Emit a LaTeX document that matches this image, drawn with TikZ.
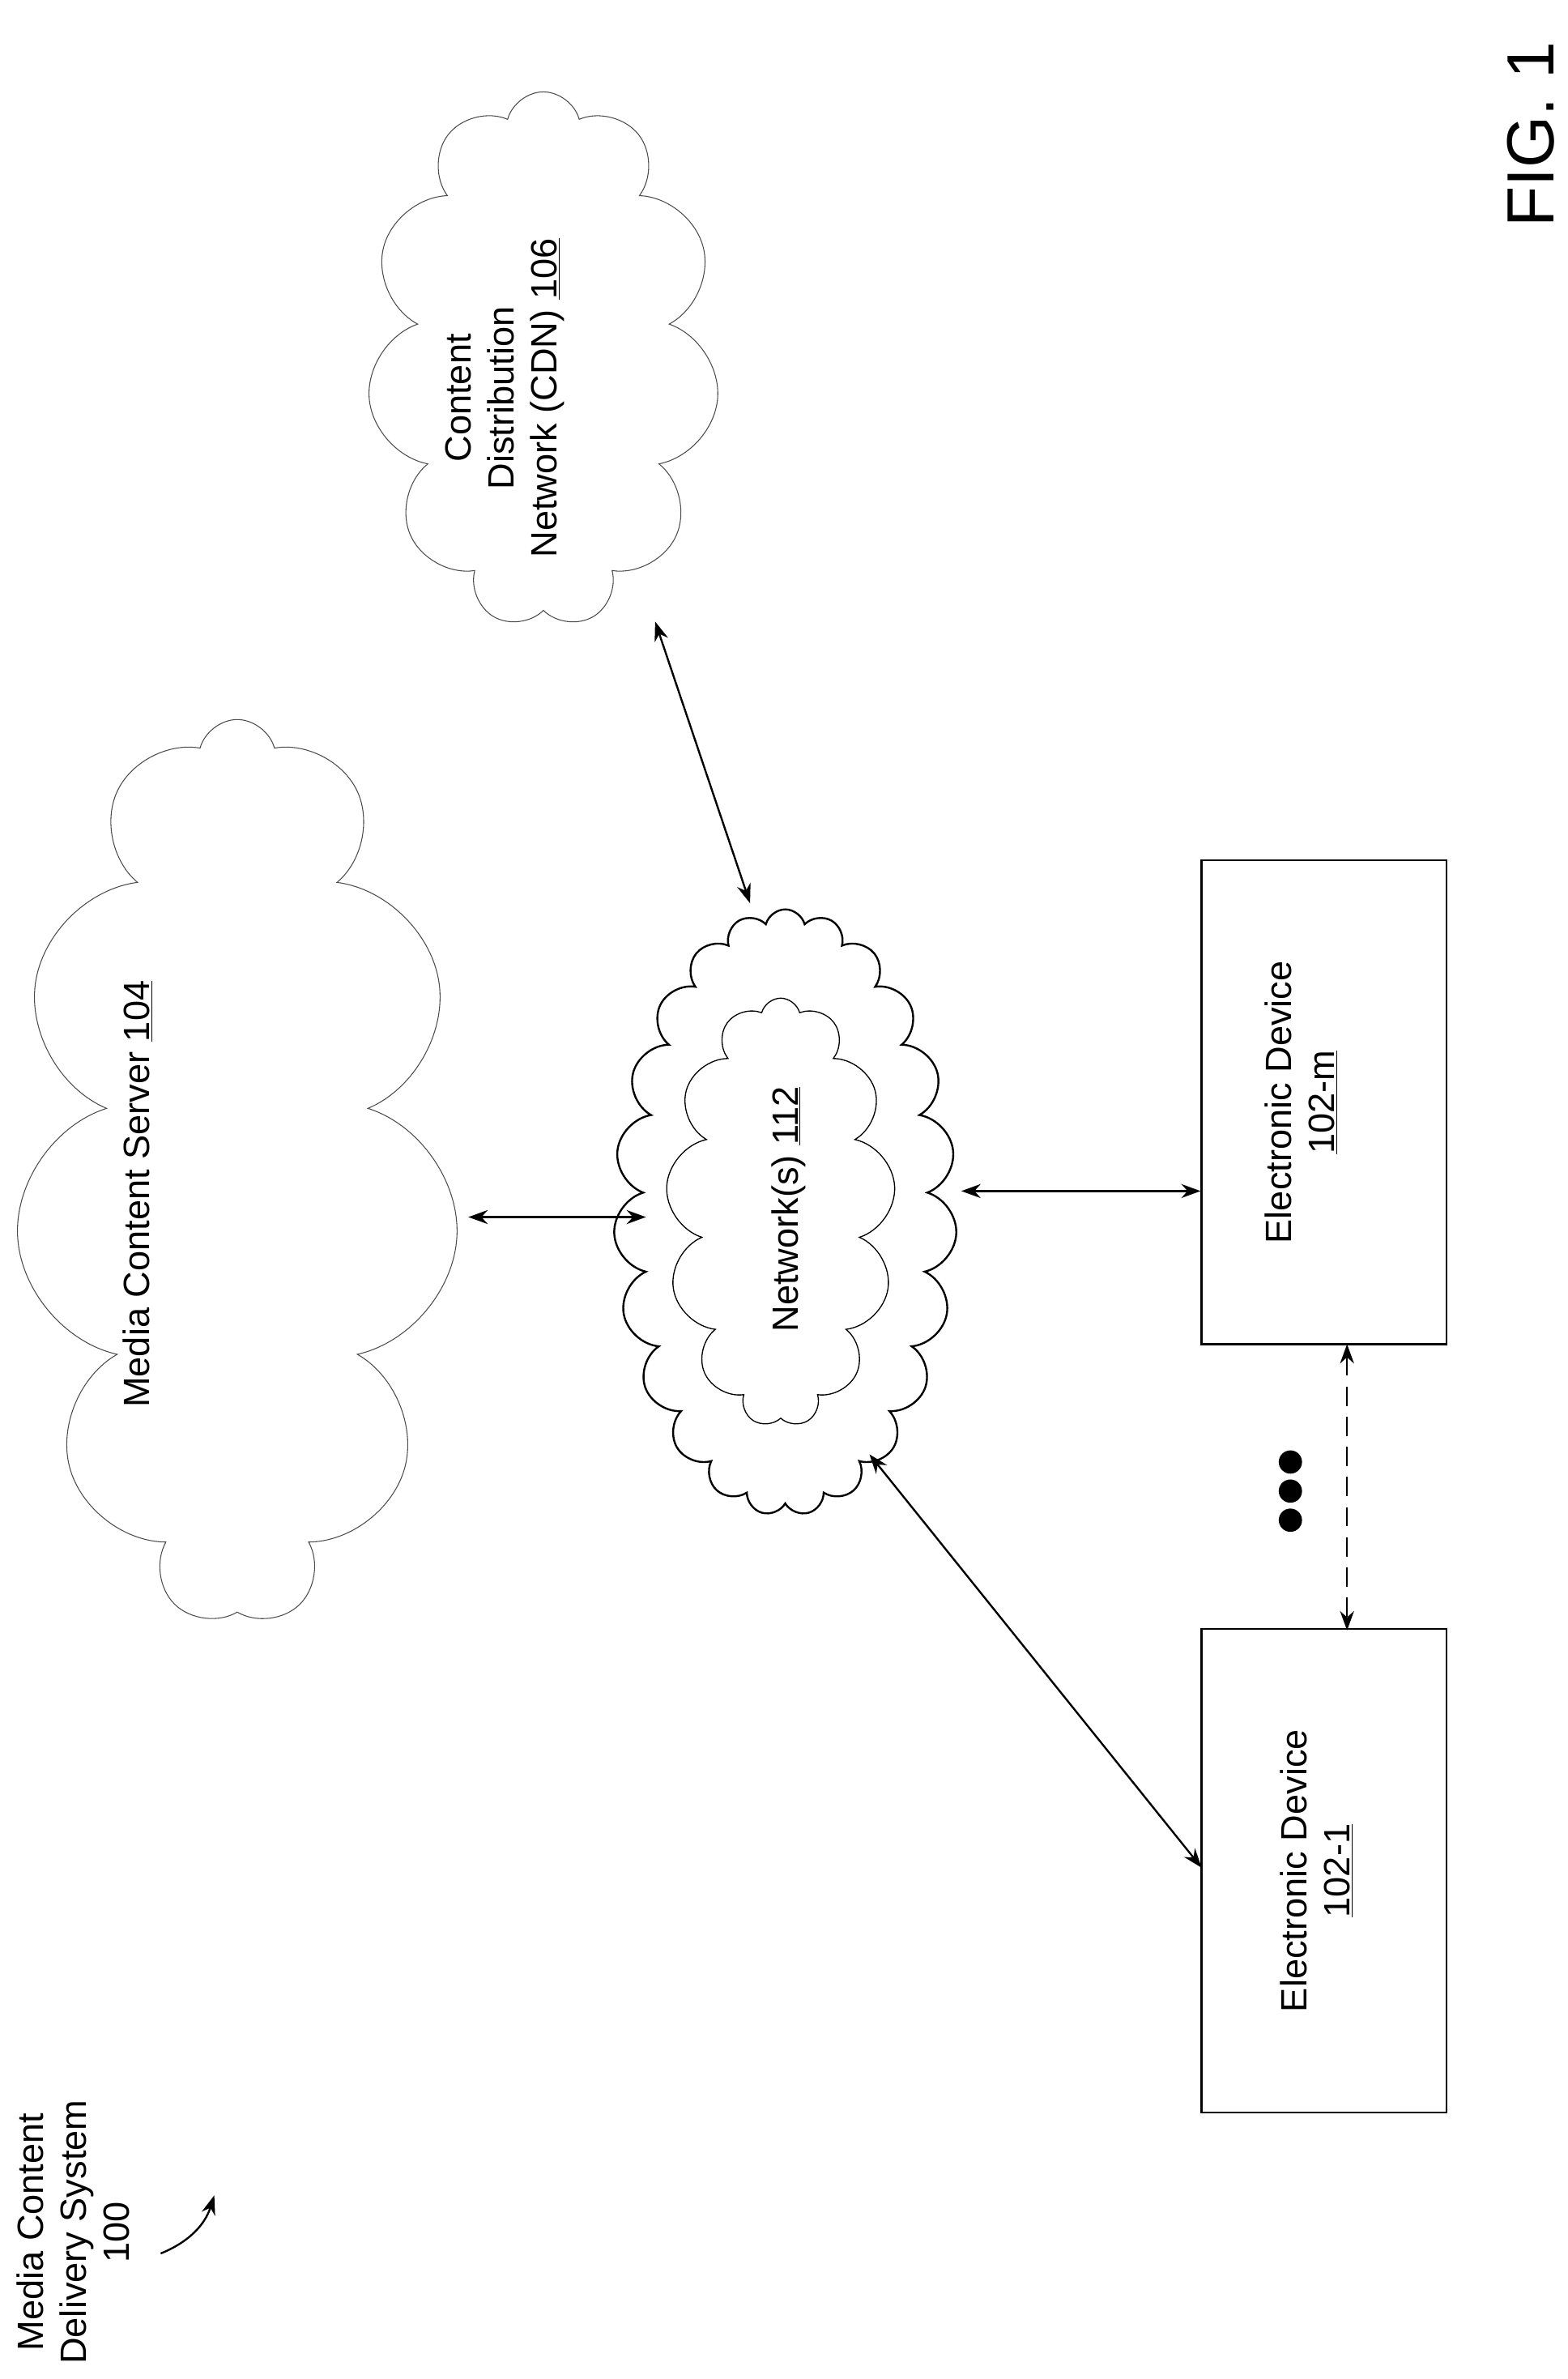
\documentclass[tikz,border=0pt]{standalone}
\usepackage{fontspec}
\setmainfont{Liberation Sans}
\usetikzlibrary{shapes.symbols,arrows.meta}
\begin{document}
\begin{tikzpicture}[x=0.05cm,y=-0.05cm,
  lab/.style={rotate=90,align=center,font=\fontsize{34}{40}\selectfont},
  cl/.style={cloud,draw=black!70,line width=0.8pt,cloud puffs=11,cloud ignores aspect,inner sep=0pt},
  box/.style={draw,line width=1.8pt,minimum width=8cm,minimum height=15.8cm,inner sep=0pt},
  arr/.style={{Stealth[length=18pt,width=13pt]}-{Stealth[length=18pt,width=13pt]},line width=1.8pt}]
\useasboundingbox (0,0) rectangle (1024,1554);
\node[font=\fontsize{62}{70}\selectfont,rotate=90] (fig) at (1000,88) {FIG. 1};
% CDN
\node[cl,minimum width=11.5cm,minimum height=17.5cm] (cdn) at (355,235) {};
\node[lab] (cdnt) at (330,260) {Content\\Distribution\\Network (CDN) \underline{106}};
% server
\node[cl,minimum width=14.5cm,minimum height=29.5cm] (srv) at (155,765) {};
\node[lab] (srvt) at (90,780) {Media Content Server \underline{104}};
% network
\node[cloud,draw,line width=1.8pt,cloud puffs=23,cloud ignores aspect,minimum width=11.2cm,minimum height=19.8cm] (net) at (513,792) {};
\node[cloud,draw,line width=1pt,cloud puffs=13,cloud ignores aspect,minimum width=7.5cm,minimum height=14cm] (neti) at (510,792) {};
\node[lab,fill=white,inner sep=1pt] (nett) at (515,790) {Network(s) \underline{112}};
% boxes
\node[box] (dm) at (865,720) {};
\node[lab] (dmt) at (850,720) {Electronic Device\\\underline{102-m}};
\node[box] (d1) at (865,1222) {};
\node[lab] (d1t) at (860,1222) {Electronic Device\\\underline{102-1}};
% arrows
\coordinate (a1) at (428,406); \coordinate (a2) at (490,590);
\draw[arr] (a1) -- (a2);
\coordinate (b1) at (306,795); \coordinate (b2) at (422,795);
\draw[arr] (b1) -- (b2);
\coordinate (c1) at (628,778);
\draw[arr] (c1) -- (dm.west |- c1);
\coordinate (e1) at (568,950); \coordinate (e2) at (785,1220);
\draw[arr] (e1) -- (e2);
\coordinate (f1) at (880,878); \coordinate (f2) at (880,1065);
\draw[arr,dash pattern=on 18pt off 10pt] (f1) -- (f2);
\foreach \y/\n in {955/p1,974/p2,993/p3} \fill (843,\y) circle (0.38cm) coordinate (\n);
% system label
\node[lab] (sys) at (48,1458) {Media Content\\Delivery System\\100};
\coordinate (g1) at (105,1472); \coordinate (g2) at (140,1434);
\draw[-{Stealth[length=18pt,width=13pt]},line width=1.8pt] (g1) to[bend right=25] (g2);
\end{tikzpicture}
\end{document}
